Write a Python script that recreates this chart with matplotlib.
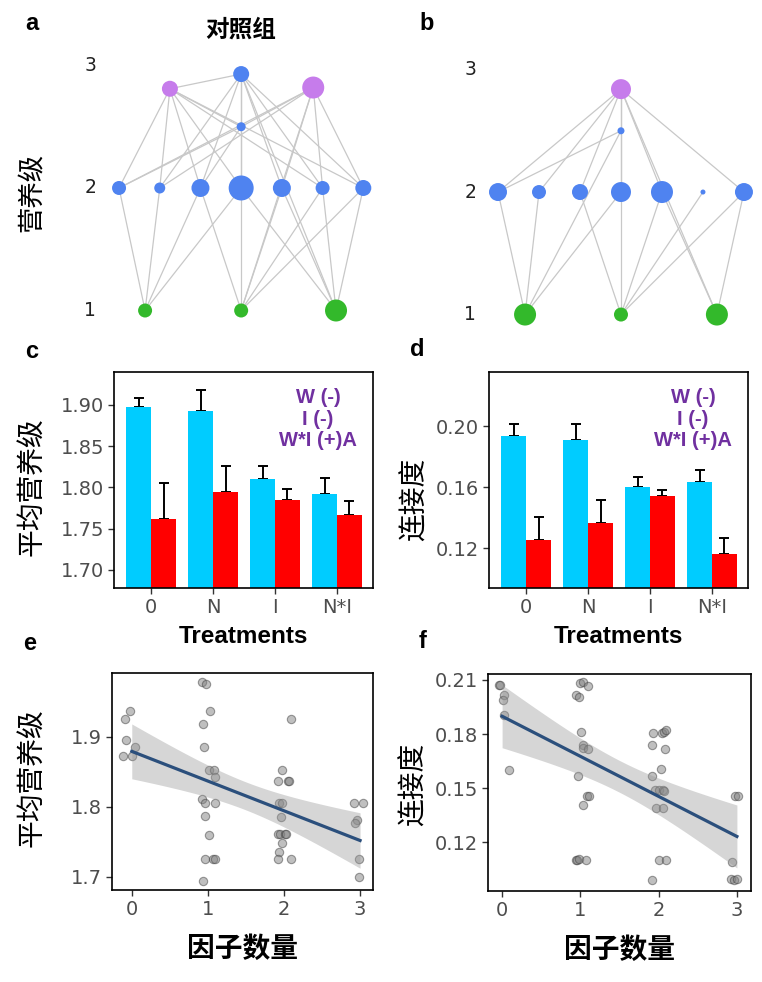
import numpy as np
import matplotlib
matplotlib.use('Agg')
import matplotlib.pyplot as plt

plt.rcParams['font.family'] = ['Liberation Sans', 'Noto Sans CJK SC', 'DejaVu Sans']

# ---------------- data ----------------
# network a (control)
a_node_x = [1.25, 3.0, 4.77, 3.0, 0, 1, 2, 3, 4, 5, 6, 0.64, 3.0, 5.33]
a_node_y = [2.81, 2.93, 2.82, 2.50, 2, 2, 2, 2, 2, 2, 2, 1, 1, 1]
a_node_r = [8, 8, 11, 4.5, 7, 5.5, 9, 12.5, 9, 7, 8, 7, 7, 11]
a_node_c = ['p', 'b', 'p', 'b', 'b', 'b', 'b', 'b', 'b', 'b', 'b', 'g', 'g', 'g']
a_edges = [(0, 1), (0, 4), (0, 5), (0, 6), (0, 7), (0, 3), (0, 9), (0, 10),
           (1, 5), (1, 6), (1, 3), (1, 7), (1, 8), (1, 9), (1, 10), (1, 13),
           (2, 4), (2, 5), (2, 3), (2, 8), (2, 9), (2, 10), (2, 12),
           (3, 4), (3, 6), (3, 7),
           (4, 11), (5, 11), (6, 11), (7, 11), (6, 12), (7, 12), (8, 12), (9, 12), (10, 12),
           (7, 13), (8, 13), (9, 13), (10, 13)]

# network b
b_node_x = [3.0, 3.0, 0, 1, 2, 3, 4, 5, 6, 0.66, 3.0, 5.34]
b_node_y = [2.84, 2.50, 2, 2, 2, 2, 2, 2, 2, 1, 1, 1]
b_node_r = [10, 3.5, 9, 7, 8, 10, 11, 2.5, 9, 11, 7, 11]
b_node_c = ['p', 'b', 'b', 'b', 'b', 'b', 'b', 'b', 'b', 'g', 'g', 'g']
b_edges = [(0, 2), (0, 3), (0, 4), (0, 5), (0, 6), (0, 8), (0, 1), (0, 11),
           (1, 2), (1, 5), (1, 9),
           (2, 9), (3, 9), (5, 9),
           (4, 10), (5, 10), (6, 10), (7, 10), (8, 10), (6, 11), (8, 11)]

level_labels = ['1', '2', '3']

treatments = ['0', 'N', 'I', 'N*I']
c_ambient = [1.897, 1.893, 1.810, 1.792]
c_ambient_se = [0.011, 0.025, 0.016, 0.019]
c_warmed = [1.762, 1.794, 1.785, 1.766]
c_warmed_se = [0.043, 0.032, 0.013, 0.017]

d_ambient = [0.1936, 0.1911, 0.1597, 0.1632]
d_ambient_se = [0.0077, 0.0102, 0.0066, 0.0077]
d_warmed = [0.1251, 0.1366, 0.1539, 0.1163]
d_warmed_se = [0.0153, 0.0152, 0.0041, 0.0100]

stats_lines = ['W (-)', 'I (-)', 'W*I (+)A']

e_x = [-0.02, -0.09, -0.07, 0.04, -0.11, 0.00,
       0.92, 0.98, 1.03, 0.93, 0.95, 1.02, 1.08, 1.09, 0.92, 0.96, 1.10, 0.96, 1.01, 0.96, 1.07, 1.10, 0.93,
       2.09, 1.97, 1.92, 2.05, 2.07, 1.94, 1.97, 1.96, 1.92, 1.95, 2.02, 2.03, 1.97, 1.94, 1.92, 2.09,
       2.92, 3.04, 2.96, 2.94, 2.99, 2.99]
e_y = [1.937, 1.926, 1.896, 1.886, 1.873, 1.872,
       1.978, 1.975, 1.937, 1.918, 1.886, 1.852, 1.852, 1.842, 1.811, 1.805, 1.805, 1.787, 1.760, 1.725, 1.725, 1.725, 1.694,
       1.926, 1.852, 1.837, 1.837, 1.837, 1.805, 1.805, 1.786, 1.761, 1.761, 1.761, 1.762, 1.749, 1.735, 1.725, 1.725,
       1.805, 1.805, 1.781, 1.777, 1.725, 1.700]

f_x = [-0.04, -0.03, 0.03, 0.01, 0.02, 0.09,
       1.00, 1.04, 1.10, 0.94, 0.98, 1.01, 1.03, 1.04, 1.10, 0.97, 1.09, 1.11, 1.04, 0.94, 0.96, 0.98, 1.07,
       1.93, 2.04, 2.07, 2.09, 1.92, 2.08, 1.92, 2.03, 1.95, 2.01, 2.05, 2.07, 1.97, 2.05, 2.01, 2.09, 1.92,
       2.97, 3.02, 2.94, 2.92, 2.96, 3.00]
f_y = [0.2074, 0.2074, 0.2019, 0.1991, 0.1904, 0.1602,
       0.2083, 0.2089, 0.2069, 0.2015, 0.2004, 0.1809, 0.1741, 0.1722, 0.1717, 0.1570, 0.1459, 0.1459, 0.1407, 0.1102, 0.1102, 0.1106, 0.1102,
       0.1806, 0.1806, 0.1809, 0.1820, 0.1737, 0.1717, 0.1570, 0.1606, 0.1491, 0.1491, 0.1491, 0.1487, 0.1389, 0.1389, 0.1102, 0.1102, 0.0991,
       0.1459, 0.1459, 0.1093, 0.0994, 0.0991, 0.0994]

# ---------------- style ----------------
NODE_COL = {'p': '#C67CEB', 'b': '#4F83F0', 'g': '#33B92B'}
CYAN = '#00CCFF'
RED = '#FF0000'
PURPLE_TXT = '#7030A0'
TICK_COL = '#4D4D4D'
TICK_FONT = ['DejaVu Sans']

fig = plt.figure(figsize=(7.62, 9.82), dpi=100)


def frac(l, t, r, b):
    return [l / 762, 1 - b / 982, (r - l) / 762, (b - t) / 982]


def draw_network(ax, xs, ys, rs, cs, edges, label_x):
    for i, j in edges:
        ax.plot([xs[i], xs[j]], [ys[i], ys[j]], color='#C8C8C8', lw=0.9, zorder=1)
    sizes = [(1.44 * r) ** 2 for r in rs]
    ax.scatter(xs, ys, s=sizes, c=[NODE_COL[c] for c in cs], linewidths=0, zorder=3)
    for k, lab in enumerate(level_labels):
        ax.text(label_x, k + 1, lab, ha='center', va='center', fontsize=13.5,
                color='#222222', family=TICK_FONT)
    ax.axis('off')


ax_a = fig.add_axes(frac(60, 40, 380, 335))
ax_a.set_xlim(-1.45, 6.41)
ax_a.set_ylim(0.8, 3.208)
draw_network(ax_a, a_node_x, a_node_y, a_node_r, a_node_c, a_edges, -0.71)

ax_b = fig.add_axes(frac(440, 40, 762, 335))
ax_b.set_xlim(-1.415, 6.44)
ax_b.set_ylim(0.833, 3.241)
draw_network(ax_b, b_node_x, b_node_y, b_node_r, b_node_c, b_edges, -0.68)

fig.text(241 / 762, 1 - 30 / 982, '对照组', ha='center', va='center', fontsize=17, fontweight='bold')
fig.text(32 / 762, 1 - 192 / 982, '营养级', ha='center', va='center', fontsize=19, rotation=90)


def style_axes(ax):
    for sp in ax.spines.values():
        sp.set_linewidth(1.2)
        sp.set_color('black')
    ax.tick_params(axis='both', length=4, width=1, color='#333333', labelsize=14,
                   labelcolor=TICK_COL, pad=3)
    for lab in ax.get_xticklabels() + ax.get_yticklabels():
        lab.set_family(TICK_FONT)


def bar_panel(ax, amb, amb_se, warm, warm_se, ylim, yticks, ylabel, ylab_pos):
    x = np.arange(len(treatments))
    w = 0.4
    ax.bar(x - w / 2, amb, width=w, color=CYAN, zorder=2)
    ax.bar(x + w / 2, warm, width=w, color=RED, zorder=2)
    ax.errorbar(x - w / 2, amb, yerr=[np.zeros(len(amb)), amb_se], fmt='none',
                ecolor='black', elinewidth=1.4, capsize=3.5, capthick=1.4, zorder=1)
    ax.errorbar(x + w / 2, warm, yerr=[np.zeros(len(warm)), warm_se], fmt='none',
                ecolor='black', elinewidth=1.4, capsize=3.5, capthick=1.4, zorder=1)
    ax.set_xlim(-0.6, 3.58)
    ax.set_ylim(*ylim)
    ax.set_yticks(yticks)
    ax.set_yticklabels(['%.2f' % v for v in yticks])
    ax.set_xticks(x)
    ax.set_xticklabels(treatments)
    style_axes(ax)
    ax.set_xlabel('Treatments', fontsize=17.5, fontweight='bold')
    ax.xaxis.set_label_coords(0.5, -0.17)
    ax.set_ylabel(ylabel, fontsize=20)
    ax.yaxis.set_label_coords(*ylab_pos)
    for txt, yy in zip(stats_lines, [0.880, 0.778, 0.685]):
        ax.text(0.788, yy, txt, transform=ax.transAxes, ha='center', va='center',
                fontsize=14.5, fontweight='bold', color=PURPLE_TXT)


ax_c = fig.add_axes(frac(114, 372, 373, 588))
bar_panel(ax_c, c_ambient, c_ambient_se, c_warmed, c_warmed_se, (1.678, 1.94),
          [1.70, 1.75, 1.80, 1.85, 1.90], '平均营养级', (-0.263, 0.47))

ax_d = fig.add_axes(frac(489, 372, 748, 588))
bar_panel(ax_d, d_ambient, d_ambient_se, d_warmed, d_warmed_se, (0.0938, 0.2354),
          [0.12, 0.16, 0.20], '连接度', (-0.231, 0.41))


def scatter_panel(ax, xs, ys, xlim, ylim, yticks, yfmt, ylabel, ylab_pos):
    xs = np.asarray(xs)
    ys = np.asarray(ys)
    ax.scatter(xs, ys, s=36, facecolor='#808080', edgecolor='#404040', linewidths=0.8,
               alpha=0.5, zorder=2)
    # linear fit with 95% confidence band (like geom_smooth(method='lm'))
    xf = np.round(xs)
    n = len(xf)
    b1, b0 = np.polyfit(xf, ys, 1)
    resid = ys - (b0 + b1 * xf)
    s = np.sqrt(np.sum(resid ** 2) / (n - 2))
    sxx = np.sum((xf - xf.mean()) ** 2)
    gx = np.linspace(xf.min(), xf.max(), 100)
    gy = b0 + b1 * gx
    se = s * np.sqrt(1 / n + (gx - xf.mean()) ** 2 / sxx)
    t = 2.017
    ax.fill_between(gx, gy - t * se, gy + t * se, color='#999999', alpha=0.4, lw=0, zorder=3)
    ax.plot(gx, gy, color='#2B4F7C', lw=2.3, zorder=4)
    ax.set_xlim(*xlim)
    ax.set_ylim(*ylim)
    ax.set_xticks([0, 1, 2, 3])
    ax.set_yticks(yticks)
    ax.set_yticklabels([yfmt % v for v in yticks])
    style_axes(ax)
    ax.set_xlabel('因子数量', fontsize=20, fontweight='bold')
    ax.xaxis.set_label_coords(0.5, -0.213)
    ax.set_ylabel(ylabel, fontsize=20)
    ax.yaxis.set_label_coords(*ylab_pos)


ax_e = fig.add_axes(frac(112, 673, 373, 890))
scatter_panel(ax_e, e_x, e_y, (-0.26, 3.17), (1.6814, 1.991), [1.7, 1.8, 1.9], '%.1f',
              '平均营养级', (-0.253, 0.52))

ax_f = fig.add_axes(frac(488, 674, 751, 891))
scatter_panel(ax_f, f_x, f_y, (-0.18, 3.18), (0.093, 0.2133), [0.12, 0.15, 0.18, 0.21], '%.2f',
              '连接度', (-0.228, 0.493))

for lab, (px, py) in zip('abcdef', [(32, 24), (427, 24), (32, 352), (417, 350), (30, 644), (423, 641)]):
    fig.text(px / 762, 1 - py / 982, lab, ha='center', va='center', fontsize=17, fontweight='bold')

fig.savefig('out.png', dpi=100)
